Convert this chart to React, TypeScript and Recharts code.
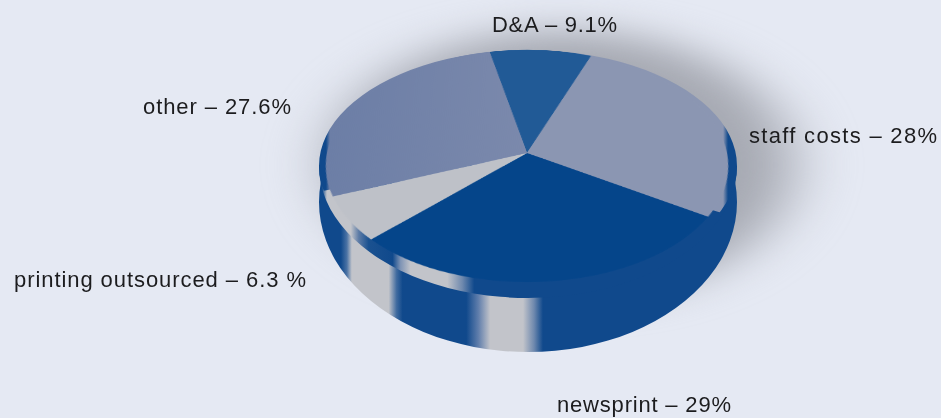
import { PieChart, Pie, Cell } from "recharts";

const CATEGORIES = ["D&A", "staff costs", "newsprint", "printing outsourced", "other"];
const VALUES = [9.1, 28, 29, 6.3, 27.6];
const VALUE_TEXT = ["9.1%", "28%", "29%", "6.3 %", "27.6%"];

const slices = CATEGORIES.map((name, i) => ({ name, value: VALUES[i] }));
const wholeDisc = [{ name: "all", value: VALUES.reduce((s, v) => s + v, 0) }];

const SLICE_FILLS = ["#215a96", "#8b96b2", "#05458a", "#bec1c8", "url(#otherFill)"];

// label anchor: left x, baseline y, text width
const LABEL_POS = [
  [492, 32, 125],
  [749, 143, 188],
  [557, 412, 174],
  [14, 287, 292],
  [143, 114, 148],
];

const BLUE = "#10498c";
const PALE = "#c2c4ca";

// side wall bands, [screen x, colour]
const SIDE_BANDS: [number, string][] = [
  [318, BLUE], [340, BLUE], [346, "#4a72a4"], [351, PALE], [388, PALE], [396, "#3f6a9f"], [402, BLUE],
  [466, BLUE], [478, "#5f7dab"], [490, PALE], [523, PALE], [534, "#6f89ae"], [543, BLUE], [738, BLUE],
];
// upper rim bands
const RIM_BANDS: [number, string][] = [
  [318, BLUE], [321, BLUE], [326, PALE], [350, PALE], [358, "#5c7ba6"], [368, "#1a5190"], [392, BLUE],
  [400, "#7f94b5"], [410, PALE], [447, PALE], [462, "#6f89ae"], [474, BLUE], [738, BLUE],
];
// back edge of the top face, blue only at the two far ends
const BACK_BANDS: [number, string][] = [
  [318, BLUE], [325, BLUE], [329, "#6c7ea6"], [500, "#7b89ac"], [560, "#8b96b2"], [724, "#8b96b2"], [729, BLUE], [738, BLUE],
];

const X0 = 318;
const X1 = 738;

function Disc({ cx, cy, rx, ry, fill, blur, clip }: { cx: number; cy: number; rx: number; ry: number; fill: string; blur?: number; clip?: string }) {
  const size = rx * 2 + 4;
  return (
    <div
      style={{
        position: "absolute",
        left: cx - size / 2,
        top: cy - size / 2,
        width: size,
        height: size,
        transform: `scaleY(${ry / rx})`,
        filter: blur ? `blur(${blur}px)` : undefined,
        clipPath: clip,
      }}
    >
      <PieChart width={size} height={size} margin={{ top: 0, right: 0, bottom: 0, left: 0 }}>
        <Pie
          data={wholeDisc}
          dataKey="value"
          cx={size / 2}
          cy={size / 2}
          outerRadius={rx}
          startAngle={90}
          endAngle={-270}
          fill={fill}
          stroke="none"
          isAnimationActive={false}
        />
      </PieChart>
    </div>
  );
}

const stops = (bands: [number, string][]) =>
  bands.map(([x, c]) => <stop key={x} offset={(x - X0) / (X1 - X0)} stopColor={c} />);

export default function App() {
  return (
    <div
      style={{
        position: "absolute",
        left: 0,
        top: 0,
        width: 941,
        height: 418,
        overflow: "hidden",
        background: "#e5e9f3",
      }}
    >
      <svg width="0" height="0" style={{ position: "absolute" }}>
        <defs>
          <linearGradient id="sideFill" x1="0" y1="0" x2="1" y2="0">{stops(SIDE_BANDS)}</linearGradient>
          <linearGradient id="rimFill" x1="0" y1="0" x2="1" y2="0">{stops(RIM_BANDS)}</linearGradient>
          <linearGradient id="backFill" x1="0" y1="0" x2="1" y2="0">{stops(BACK_BANDS)}</linearGradient>
          <linearGradient id="otherFill" x1="0" y1="0" x2="1" y2="0">
            <stop offset="0" stopColor="#6c7ea6" />
            <stop offset="1" stopColor="#7b89ac" />
          </linearGradient>
        </defs>
      </svg>

      {/* soft shadow behind the disc */}
      <Disc cx={562} cy={165} rx={232} ry={135} fill="#a6a9b2" blur={30} />

      <Disc cx={528} cy={202} rx={209} ry={150} fill="url(#sideFill)" />
      <Disc cx={528} cy={166} rx={209} ry={132} fill="url(#rimFill)" clip="inset(50% 0 0 0)" />
      {/* cut along the slice boundaries so no step shows at the two ends */}
      <Disc
        cx={528}
        cy={166}
        rx={209}
        ry={116}
        fill="url(#backFill)"
        clip="polygon(0 0, 422px 0, 422px 305px, 210px 188px, 0 258px)"
      />

      {/* top face, tilted with real perspective so the hub sits off the ellipse centre */}
      <div
        style={{
          position: "absolute",
          left: 527 - 230,
          top: 153 - 230,
          width: 460,
          height: 460,
          transform: "perspective(1463px) rotateX(55deg)",
          transformOrigin: "50% 50%",
        }}
      >
        <PieChart width={460} height={460} margin={{ top: 0, right: 0, bottom: 0, left: 0 }}>
          <Pie
            data={slices}
            dataKey="value"
            nameKey="name"
            cx={230}
            cy={230}
            outerRadius={200}
            startAngle={102}
            endAngle={-258}
            stroke="none"
            isAnimationActive={false}
          >
            {slices.map((s, i) => (
              <Cell key={s.name} fill={SLICE_FILLS[i]} />
            ))}
          </Pie>
        </PieChart>
      </div>

      <svg width={941} height={418} style={{ position: "absolute", left: 0, top: 0 }}>
        {CATEGORIES.map((name, i) => (
          <text
            key={name}
            x={LABEL_POS[i][0]}
            y={LABEL_POS[i][1]}
            textLength={LABEL_POS[i][2]}
            lengthAdjust="spacing"
            fontFamily="'Liberation Sans', Arial, sans-serif"
            fontSize={22}
            fill="#1c1c1e"
          >
            {`${name} – ${VALUE_TEXT[i]}`}
          </text>
        ))}
      </svg>
    </div>
  );
}
